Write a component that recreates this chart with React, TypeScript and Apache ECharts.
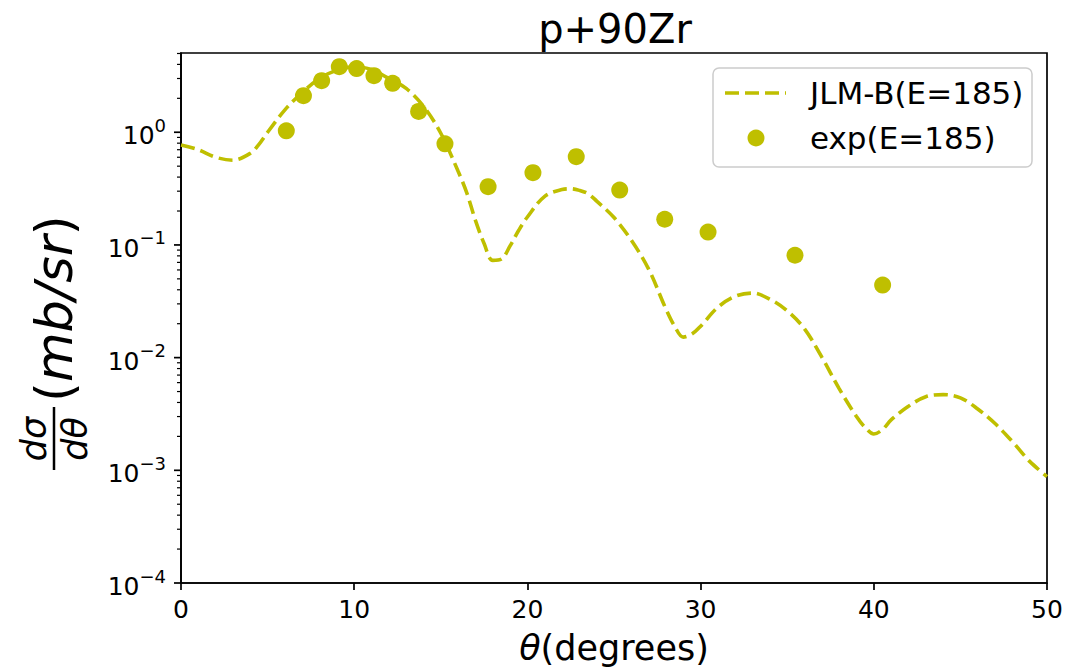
import React, { useEffect, useRef } from "react";
import * as echarts from "echarts";

const FONT = '"DejaVu Sans", "Liberation Sans", sans-serif';
const COLOR = "#bfbf00";

const curveTheta = [0, 1, 2, 3, 4, 4.5, 5, 6, 7, 8, 9, 10, 11, 12, 13, 14, 15, 16, 16.5, 17, 17.5, 18, 18.5, 19, 19.5, 20, 21, 22, 22.5, 23, 23.5, 24, 25, 26, 27, 28, 28.5, 29, 29.5, 30, 31, 32, 33, 34, 35, 36, 37, 38, 39, 39.5, 40, 40.5, 41, 42, 43, 44, 45, 46, 47, 48, 49, 50];
const curveSigma = [0.77, 0.7, 0.6, 0.565, 0.65, 0.78, 1.0, 1.58, 2.25, 3.0, 3.55, 3.8, 3.6, 3.0, 2.45, 1.7, 0.98, 0.45, 0.29, 0.165, 0.103, 0.073, 0.075, 0.098, 0.135, 0.177, 0.27, 0.31, 0.315, 0.305, 0.285, 0.245, 0.175, 0.11, 0.061, 0.027, 0.019, 0.0152, 0.0162, 0.019, 0.028, 0.035, 0.0374, 0.033, 0.026, 0.018, 0.0101, 0.0053, 0.003, 0.0024, 0.0021, 0.0023, 0.0028, 0.0037, 0.0045, 0.0047, 0.0044, 0.0035, 0.0026, 0.0018, 0.0012, 0.00088];

const expTheta = [6.08, 7.07, 8.12, 9.14, 10.14, 11.14, 12.22, 13.72, 15.24, 17.73, 20.32, 22.82, 25.33, 27.93, 30.43, 35.45, 40.51];
const expSigma = [1.03, 2.11, 2.87, 3.82, 3.67, 3.18, 2.72, 1.53, 0.79, 0.329, 0.438, 0.607, 0.307, 0.169, 0.13, 0.081, 0.044];

const xMin = 0;
const xMax = 50;
const xInterval = 10;
const yMin = 1e-4;
const yMax = 5.05;
const yMajorTicks = [1e-4, 1e-3, 1e-2, 1e-1, 1];
const yMinorMantissas = [2, 3, 4, 5, 6, 7, 8, 9];

const curveName = "JLM-B(E=185)";
const expName = "exp(E=185)";
const titleText = "p+90Zr";

export default function App() {
  const ref = useRef<HTMLDivElement>(null);

  useEffect(() => {
    const chart = echarts.init(ref.current!, null, { renderer: "svg" });

    const tickData: number[][] = [];
    yMajorTicks.forEach((v) => tickData.push([xMin, v, 1]));
    yMajorTicks.forEach((v) => {
      yMinorMantissas.forEach((m) => {
        const t = v * m;
        if (t <= yMax) tickData.push([xMin, t, 0]);
      });
    });

    const option: any = {
      animation: false,
      backgroundColor: "#ffffff",
      grid: {
        left: 181,
        right: 37,
        top: 53,
        bottom: 89,
        show: true,
        borderColor: "#000",
        borderWidth: 1.7,
        backgroundColor: "transparent",
      },
      xAxis: {
        type: "value",
        min: xMin,
        max: xMax,
        interval: xInterval,
        splitLine: { show: false },
        axisLine: { show: true, onZero: false, lineStyle: { color: "#000", width: 1.7 } },
        axisTick: { show: true, length: 7, lineStyle: { color: "#000", width: 1.7 } },
        axisLabel: { fontSize: 25, color: "#000", fontFamily: FONT, margin: 14 },
        name: "{i|θ}(degrees)",
        nameLocation: "middle",
        nameGap: 47,
        nameTextStyle: {
          fontSize: 35,
          color: "#000",
          fontFamily: FONT,
          rich: { i: { fontSize: 35, fontStyle: "italic", fontFamily: FONT, color: "#000" } },
        },
      },
      yAxis: {
        type: "log",
        logBase: 10,
        min: yMin,
        max: yMax,
        splitLine: { show: false },
        axisLine: { show: true, lineStyle: { color: "#000", width: 1.7 } },
        axisTick: { show: false },
        minorTick: { show: false },
        axisLabel: {
          margin: 15,
          color: "#000",
          formatter: (v: number) => {
            const e = Math.log10(v);
            const r = Math.round(e);
            if (Math.abs(e - r) > 1e-6) return "";
            const s = r < 0 ? "\u2212" + Math.abs(r) : String(r);
            return "{b|10}{s|" + s + "}";
          },
          rich: {
            b: { fontSize: 25, fontFamily: FONT, color: "#000", lineHeight: 32, verticalAlign: "bottom" },
            s: { fontSize: 18, fontFamily: FONT, color: "#000", lineHeight: 32, verticalAlign: "top" },
          },
        },
      },
      series: [
        {
          type: "custom",
          name: "yticks",
          clip: false,
          silent: true,
          data: tickData,
          renderItem: (params: any, api: any) => {
            const p = api.coord([api.value(0), api.value(1)]);
            const major = api.value(2) === 1;
            const len = major ? 7 : 4;
            return {
              type: "line",
              shape: { x1: p[0] - len, y1: p[1], x2: p[0], y2: p[1] },
              style: { stroke: "#000", lineWidth: major ? 1.7 : 1.2 },
            };
          },
          z: 5,
        },
        {
          type: "line",
          name: curveName,
          data: curveTheta.map((t, i) => [t, curveSigma[i]]),
          showSymbol: false,
          symbol: "none",
          smooth: 0.35,
          lineStyle: { color: COLOR, width: 3.6, type: [14, 6] },
          z: 3,
        },
        {
          type: "scatter",
          name: expName,
          data: expTheta.map((t, i) => [t, expSigma[i]]),
          symbol: "circle",
          symbolSize: 17,
          itemStyle: { color: COLOR, opacity: 1 },
          z: 4,
        },
      ],
      graphic: [
        {
          type: "text",
          x: 615,
          y: 29,
          style: { text: titleText, fontSize: 40, fontFamily: FONT, fill: "#000", align: "center", verticalAlign: "middle" },
        },
        {
          type: "group",
          x: 54,
          y: 470,
          rotation: Math.PI / 2,
          children: [
            { type: "text", x: 31, y: -3, style: { text: "dσ", fontSize: 35, fontStyle: "italic", fontFamily: FONT, fill: "#000", align: "center", verticalAlign: "bottom" } },
            { type: "line", shape: { x1: 0, y1: 0, x2: 63, y2: 0 }, style: { stroke: "#000", lineWidth: 2.5 } },
            { type: "text", x: 31, y: 3, style: { text: "dθ", fontSize: 35, fontStyle: "italic", fontFamily: FONT, fill: "#000", align: "center", verticalAlign: "top" } },
            {
              type: "text",
              x: 68,
              y: 0,
              style: {
                text: "{p|(}{i|mb/sr}{p|)}",
                align: "left",
                verticalAlign: "middle",
                fill: "#000",
                rich: {
                  p: { fontSize: 51, fontFamily: FONT, fill: "#000" },
                  i: { fontSize: 51, fontFamily: FONT, fontStyle: "italic", fill: "#000" },
                },
              },
            },
          ],
        },
        {
          type: "group",
          z: 100,
          children: [
            {
              type: "rect",
              shape: { x: 713, y: 68, width: 319, height: 99, r: 6 },
              style: { fill: "rgba(255,255,255,0.8)", stroke: "#cccccc", lineWidth: 1.5 },
            },
            {
              type: "line",
              shape: { x1: 725, y1: 93, x2: 786, y2: 93 },
              style: { stroke: COLOR, lineWidth: 3.6, lineDash: [14, 6] },
            },
            { type: "circle", shape: { cx: 756, cy: 138, r: 8.5 }, style: { fill: COLOR } },
            {
              type: "text",
              x: 810,
              y: 93,
              style: { text: curveName, fontSize: 31, fontFamily: FONT, fill: "#000", align: "left", verticalAlign: "middle" },
            },
            {
              type: "text",
              x: 810,
              y: 138,
              style: { text: expName, fontSize: 31, fontFamily: FONT, fill: "#000", align: "left", verticalAlign: "middle" },
            },
          ],
        },
      ],
    };

    chart.setOption(option);
    return () => chart.dispose();
  }, []);

  return (
    <div
      ref={ref}
      style={{ position: "absolute", left: 0, top: 0, width: 1084, height: 672, background: "#fff" }}
    />
  );
}
